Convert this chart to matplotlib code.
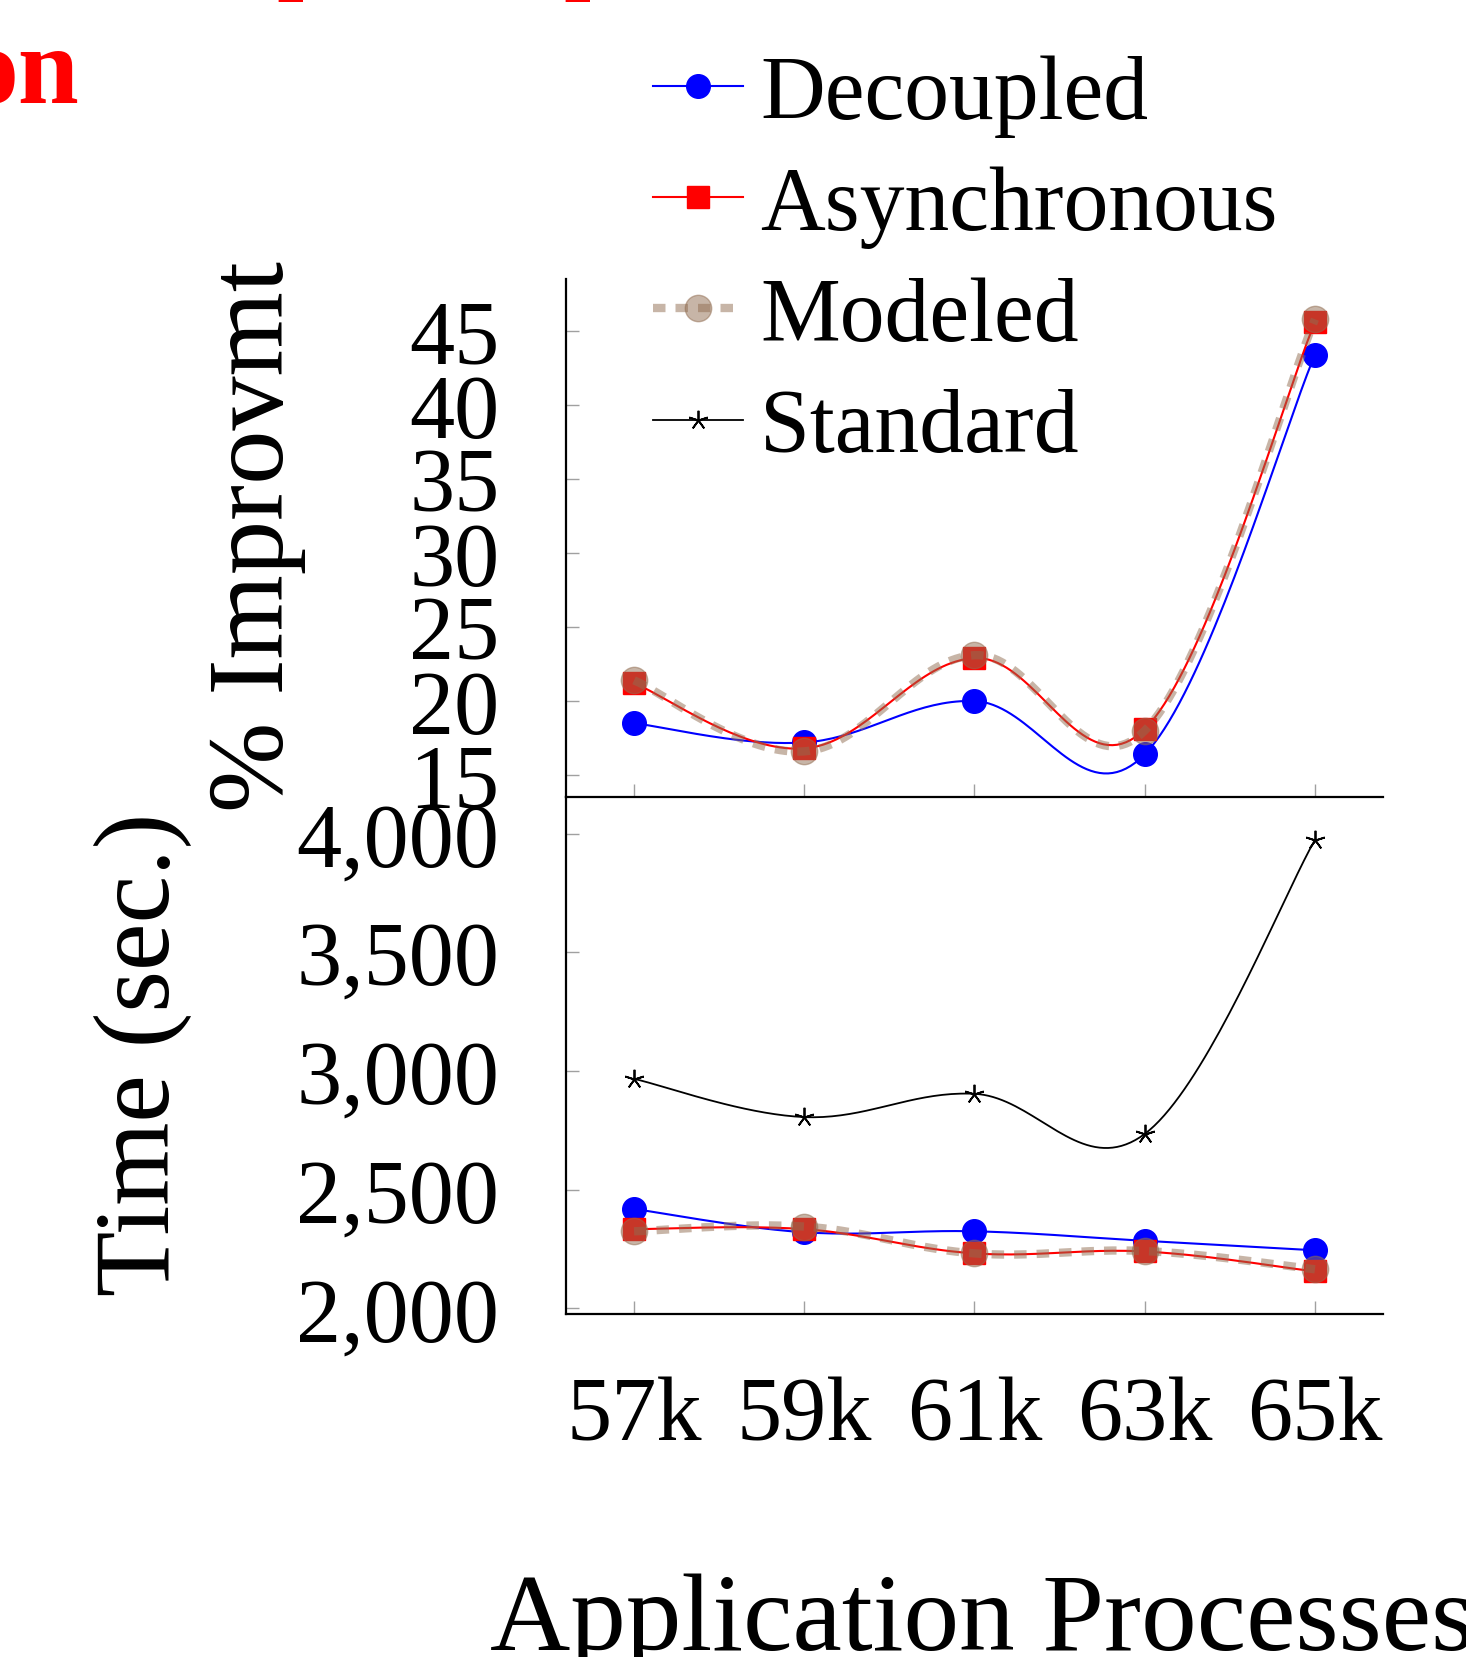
import numpy as np
import matplotlib
matplotlib.use("Agg")
import matplotlib.pyplot as plt
from matplotlib.lines import Line2D
from matplotlib.ticker import FuncFormatter

plt.rcParams['font.family'] = ['Liberation Serif', 'DejaVu Serif']

# data
procs = [57, 59, 61, 63, 65]
proc_labels = ['57k', '59k', '61k', '63k', '65k']

improv_decoupled = [18.5, 17.2, 20.0, 16.4, 43.4]
improv_async = [21.2, 16.8, 22.9, 18.1, 45.6]
improv_modeled = [21.4, 16.6, 23.1, 18.0, 45.8]

time_standard = [2967, 2806, 2904, 2735, 3973]
time_decoupled = [2419, 2321, 2325, 2285, 2245]
time_async = [2334, 2334, 2232, 2240, 2156]
time_modeled = [2325, 2345, 2232, 2242, 2165]

W, H = 1466, 1658
MODEL_C = '#916d51'


def smooth(xs, ys, tension=0.55, n=40):
    # tikz style "smooth" bezier path through the points
    pts = np.column_stack([xs, ys]).astype(float)
    out = []
    for i in range(len(pts) - 1):
        p0, p3 = pts[i], pts[i + 1]
        prev = pts[i - 1] if i > 0 else pts[i]
        nxt = pts[i + 2] if i + 2 < len(pts) else pts[i + 1]
        c1 = p0 + tension / 3 * (p3 - prev)
        c2 = p3 - tension / 3 * (nxt - p0)
        t = np.linspace(0, 1, n)[:, None]
        out.append((1 - t) ** 3 * p0 + 3 * (1 - t) ** 2 * t * c1
                   + 3 * (1 - t) * t ** 2 * c2 + t ** 3 * p3)
    seg = np.vstack(out)
    return seg[:, 0], seg[:, 1]


def draw(ax, ys, color, marker, ms, lw=1.5, z=3, dashes=None, alpha=1, mew=1):
    sx, sy = smooth(procs, ys)
    line_kw = {'dashes': dashes} if dashes else {}
    ax.plot(sx, sy, color=color, lw=lw, zorder=z, alpha=alpha, **line_kw)
    ax.plot(procs, ys, ls='none', marker=marker, ms=ms, color=color,
            mec=color, mew=mew, zorder=z, alpha=alpha)


def fx(px):
    return px / W


def fy(py):
    return 1 - py / H


fig = plt.figure(figsize=(W / 100, H / 100), dpi=100)
ax_top = fig.add_axes([fx(566), fy(797.5), fx(1383) - fx(566), fy(280.3) - fy(797.5)])
ax_bot = fig.add_axes([fx(566), fy(1314.7), fx(1383) - fx(566), fy(797.5) - fy(1314.7)],
                      sharex=ax_top)

# upper panel: % improvement
draw(ax_top, improv_decoupled, 'blue', 'o', 17, z=3)
draw(ax_top, improv_async, 'red', 's', 16, z=4)
draw(ax_top, improv_modeled, MODEL_C, 'o', 19, lw=6, z=5, alpha=0.5,
     dashes=(1.5, 1.2))

# lower panel: time
draw(ax_bot, time_standard, 'black', (5, 2, 0), 14, lw=1.3, z=2, mew=1.3)
draw(ax_bot, time_decoupled, 'blue', 'o', 17, z=3)
draw(ax_bot, time_async, 'red', 's', 16, z=4)
draw(ax_bot, time_modeled, MODEL_C, 'o', 19, lw=6, z=5, alpha=0.5,
     dashes=(1.5, 1.2))

ax_top.set_xlim(56.2, 65.8)
ax_top.set_ylim(13.55, 48.5)
ax_top.set_yticks([15, 20, 25, 30, 35, 40, 45])
ax_bot.set_ylim(1978, 4156)
ax_bot.set_yticks([2000, 2500, 3000, 3500, 4000])
ax_bot.yaxis.set_major_formatter(FuncFormatter(lambda v, p: '{:,.0f}'.format(v)))
ax_bot.set_xticks(procs)
ax_bot.set_xticklabels(proc_labels)

for ax in (ax_top, ax_bot):
    ax.patch.set_alpha(0)
    for s in ('top', 'right'):
        ax.spines[s].set_visible(False)
    for s in ('left', 'bottom'):
        ax.spines[s].set_linewidth(1.6)
        ax.spines[s].set_zorder(6)
    ax.tick_params(direction='in', length=9.5, width=1, color='#a0a0a0',
                   labelsize=65, pad=48)
    ax.tick_params(axis='x', pad=45)
ax_top.tick_params(axis='x', labelbottom=False)

# legend, no frame
handles = [
    Line2D([], [], color='blue', lw=1.5, marker='o', ms=17),
    Line2D([], [], color='red', lw=1.5, marker='s', ms=16),
    Line2D([], [], color=MODEL_C, lw=6, marker='o', ms=19, alpha=0.5, dashes=(1.5, 1.2)),
    Line2D([], [], color='black', lw=1.3, marker=(5, 2, 0), ms=14, mew=1.3),
]
labels = ['Decoupled', 'Asynchronous', 'Modeled', 'Standard']
fig.legend(handles, labels, loc='upper left', bbox_to_anchor=(fx(653), fy(55)),
           frameon=False, fontsize=64.5, handlelength=1.0, handletextpad=0.2,
           labelspacing=0.32, borderpad=0, borderaxespad=0, numpoints=1)

# axis titles
fig.text(fx(143), fy(1054), 'Time (sec.)', rotation=90, ha='center', va='center',
         fontsize=77)
fig.text(fx(257), fy(537), '% Improvmt', rotation=90, ha='center', va='center',
         fontsize=78)
fig.text(fx(490), fy(1650), 'Application Processes', ha='left', va='baseline',
         fontsize=80)

# red text cut off at the top left corner
fig.text(fx(-36), fy(102.6), 'on', color='red', fontweight='bold', fontsize=79,
         va='baseline', ha='left')
fig.text(fx(278), fy(-4), '_', color='red', fontweight='bold', fontsize=34,
         va='baseline', ha='left')
fig.text(fx(565), fy(-4), '_', color='red', fontweight='bold', fontsize=34,
         va='baseline', ha='left')

fig.savefig('out.png', dpi=100)
